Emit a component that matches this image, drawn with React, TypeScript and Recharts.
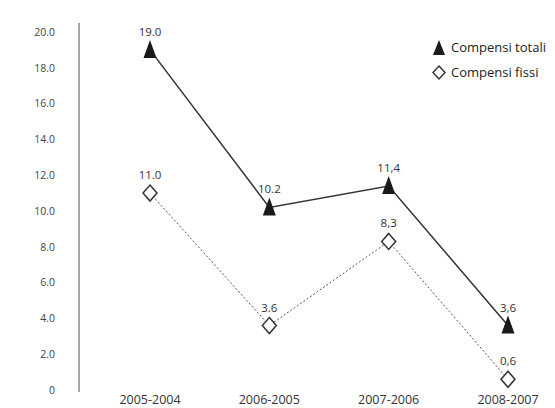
import React from 'react';
import { LineChart, Line, XAxis, YAxis, Legend, LabelList } from 'recharts';

const periods = ['2005-2004', '2006-2005', '2007-2006', '2008-2007'];
const compensiTotali = [19.0, 10.2, 11.4, 3.6];
const compensiFissi = [11.0, 3.6, 8.3, 0.6];
// decimal separator used in the printed value labels, per period
const decimalSep = ['.', '.', ',', ','];
const yTicks = [0, 2, 4, 6, 8, 10, 12, 14, 16, 18, 20];

const data = periods.map((period, i) => ({
  period,
  totali: compensiTotali[i],
  fissi: compensiFissi[i],
}));

const FONT = '"Open Sans", "DejaVu Sans", sans-serif';

const TriangleDot = (props: any) => {
  const { cx, cy, index } = props;
  if (cx == null || cy == null) return null;
  return (
    <polygon
      key={`tri-${index}`}
      points={`${cx},${cy - 10} ${cx - 6.5},${cy + 8} ${cx + 6.5},${cy + 8}`}
      fill="#1a1a1a"
    />
  );
};

const DiamondDot = (props: any) => {
  const { cx, cy, index } = props;
  if (cx == null || cy == null) return null;
  return (
    <polygon
      key={`dia-${index}`}
      points={`${cx},${cy - 8} ${cx + 7},${cy} ${cx},${cy + 8} ${cx - 7},${cy}`}
      fill="#fff"
      stroke="#333"
      strokeWidth={1.5}
    />
  );
};

const ValueLabel = (props: any) => {
  const { x, y, value, index } = props;
  const text = Number(value).toFixed(1).replace('.', decimalSep[index]);
  return (
    <text x={x} y={y - 14} textAnchor="middle" fontSize={11.5} fill="#333" fontFamily={FONT}>
      {text}
    </text>
  );
};

const LegendContent = () => (
  <div style={{ fontFamily: FONT, fontSize: 13, color: '#222', lineHeight: '25px' }}>
    <div style={{ display: 'flex', alignItems: 'center' }}>
      <svg width={14} height={17} style={{ marginRight: 5 }}>
        <polygon points="7,1 1,16 13,16" fill="#1a1a1a" />
      </svg>
      Compensi totali
    </div>
    <div style={{ display: 'flex', alignItems: 'center' }}>
      <svg width={14} height={17} style={{ marginRight: 5 }}>
        <polygon points="7,2 13,8.5 7,15 1,8.5" fill="#fff" stroke="#333" strokeWidth={1.5} />
      </svg>
      Compensi fissi
    </div>
  </div>
);

const App: React.FC = () => {
  return (
    <div style={{ position: 'absolute', left: 0, top: 0, background: '#fff' }}>
      <LineChart width={555} height={408} data={data} margin={{ top: 23, right: 10, left: 19, bottom: 0 }}>
        <XAxis
          dataKey="period"
          axisLine={false}
          tickLine={false}
          tickSize={0}
          tickMargin={3}
          height={16}
          padding={{ left: 71, right: 37 }}
          tick={{ fill: '#333', fontSize: 12.5, fontFamily: FONT }}
        />
        <YAxis
          domain={[0, 20]}
          ticks={yTicks}
          interval={0}
          width={60}
          padding={{ top: 9, bottom: 2 }}
          tickLine={false}
          tickSize={6}
          tickMargin={18}
          axisLine={{ stroke: '#8a8a8a', strokeWidth: 1.5 }}
          tick={{ fill: '#444', fontSize: 10.5, fontFamily: FONT }}
          tickFormatter={(v: number) => (v === 0 ? '0' : v.toFixed(1))}
        />
        <Legend
          layout="vertical"
          align="center"
          verticalAlign="middle"
          wrapperStyle={{ top: 35, left: 432, width: 123, height: 52 }}
          content={<LegendContent />}
        />
        <Line
          dataKey="totali"
          stroke="#333"
          strokeWidth={1.5}
          dot={TriangleDot}
          activeDot={false}
          isAnimationActive={false}
        >
          <LabelList dataKey="totali" content={ValueLabel} />
        </Line>
        <Line
          dataKey="fissi"
          stroke="#555"
          strokeWidth={1}
          strokeDasharray="2 2"
          dot={DiamondDot}
          activeDot={false}
          isAnimationActive={false}
        >
          <LabelList dataKey="fissi" content={ValueLabel} />
        </Line>
      </LineChart>
    </div>
  );
};

export default App;
